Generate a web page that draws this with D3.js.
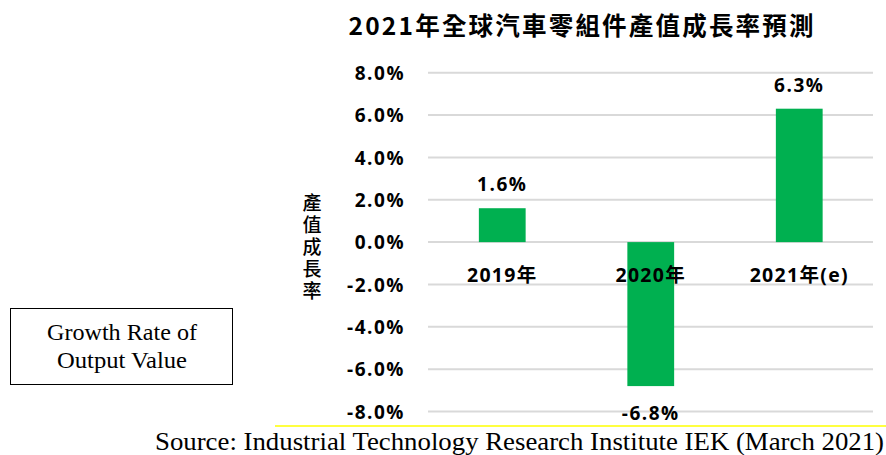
<!DOCTYPE html>
<html>
<head>
<meta charset="utf-8">
<script src="https://cdn.jsdelivr.net/npm/d3@7"></script>
<style>
  body { margin: 0; background: #fff; }
  text { font-family: "Open Sans", "Noto Sans CJK TC", sans-serif; font-weight: bold; fill: #000; }
  .serif { font-family: "Liberation Serif", "DejaVu Serif", serif; font-weight: normal; }
</style>
</head>
<body>
<div id="chart"></div>
<script>
// data
var categories = ["2019年", "2020年", "2021年(e)"];
var growth = [1.6, -6.8, 6.3];
var valueLabels = ["1.6%", "-6.8%", "6.3%"];
var yTicks = [-8, -6, -4, -2, 0, 2, 4, 6, 8];

var width = 886, height = 455;

var svg = d3.select("#chart").append("svg")
    .attr("width", width)
    .attr("height", height);

// scales
var x = d3.scaleBand().domain(categories).range([428, 873.5]).paddingInner(0.685).paddingOuter(0.3425);
var y = d3.scaleLinear().domain([-8, 8]).range([411.5, 72.7]);

// grid lines
svg.append("g")
    .selectAll("line")
    .data(yTicks)
    .enter().append("line")
    .attr("x1", 428)
    .attr("x2", 873)
    .attr("y1", function (d) { return y(d); })
    .attr("y2", function (d) { return y(d); })
    .style("stroke", "#d9d9d9")
    .style("stroke-width", 2);

// y axis labels
var yAxis = svg.append("g")
    .attr("transform", "translate(428,0)")
    .call(d3.axisLeft(y).tickValues(yTicks).tickSize(0).tickPadding(23)
        .tickFormat(function (d) { return d.toFixed(1) + "%"; }));
yAxis.select(".domain").remove();
yAxis.selectAll("text")
    .style("font-family", "'Open Sans', sans-serif")
    .style("font-weight", "bold")
    .style("font-size", "19px")
    .style("letter-spacing", "1.5px")
    .attr("dy", "0.36em");

// bars
svg.selectAll(".bar")
    .data(growth)
    .enter().append("rect")
    .attr("class", "bar")
    .attr("x", function (d, i) { return x(categories[i]); })
    .attr("width", x.bandwidth())
    .attr("y", function (d) { return y(Math.max(0, d)); })
    .attr("height", function (d) { return Math.abs(y(d) - y(0)); })
    .style("fill", "#00b050");

// value labels
svg.selectAll(".val")
    .data(growth)
    .enter().append("text")
    .attr("class", "val")
    .attr("x", function (d, i) { return x(categories[i]) + x.bandwidth() / 2; })
    .attr("y", function (d) { return d >= 0 ? y(d) - 17 : y(d) + 34; })
    .attr("text-anchor", "middle")
    .style("font-size", "19px")
    .style("letter-spacing", "1.5px")
    .text(function (d, i) { return valueLabels[i]; });

// category labels
svg.selectAll(".cat")
    .data(categories)
    .enter().append("text")
    .attr("class", "cat")
    .attr("x", function (d) { return x(d) + x.bandwidth() / 2; })
    .attr("y", y(0) + 40)
    .attr("text-anchor", "middle")
    .style("font-size", "19.5px")
    .style("letter-spacing", "1.3px")
    .text(function (d) { return d; });

// title
svg.append("text")
    .attr("x", 581)
    .attr("y", 35)
    .attr("text-anchor", "middle")
    .attr("textLength", 465)
    .attr("lengthAdjust", "spacing")
    .style("font-size", "24.5px")
    .style("font-family", "'Noto Sans CJK TC', sans-serif")
    .style("font-weight", "bold")
    .text("2021年全球汽車零組件產值成長率預測");

// vertical y title
svg.append("text")
    .attr("x", 312)
    .attr("y", 193)
    .style("writing-mode", "vertical-rl")
    .style("text-orientation", "upright")
    .style("font-family", "'Noto Sans CJK TC', sans-serif")
    .style("font-weight", "500")
    .style("font-size", "19px")
    .style("letter-spacing", "3px")
    .text("產值成長率");

// english label box
svg.append("rect")
    .attr("x", 10.5)
    .attr("y", 308.5)
    .attr("width", 222)
    .attr("height", 76)
    .style("fill", "none")
    .style("stroke", "#000")
    .style("stroke-width", 1);

svg.append("text")
    .attr("class", "serif")
    .attr("x", 122)
    .attr("y", 340)
    .attr("text-anchor", "middle")
    .attr("textLength", 150)
    .attr("lengthAdjust", "spacingAndGlyphs")
    .style("font-size", "23px")
    .text("Growth Rate of");

svg.append("text")
    .attr("class", "serif")
    .attr("x", 122)
    .attr("y", 368)
    .attr("text-anchor", "middle")
    .attr("textLength", 130)
    .attr("lengthAdjust", "spacingAndGlyphs")
    .style("font-size", "23px")
    .text("Output Value");

// yellow rule
svg.append("line")
    .attr("x1", 275)
    .attr("x2", 886)
    .attr("y1", 426)
    .attr("y2", 426)
    .style("stroke", "#ffff00")
    .style("stroke-width", 1.5);

// source
svg.append("text")
    .attr("class", "serif")
    .attr("x", 155)
    .attr("y", 450)
    .attr("textLength", 729)
    .attr("lengthAdjust", "spacingAndGlyphs")
    .style("font-size", "25px")
    .text("Source: Industrial Technology Research Institute IEK (March 2021)");
</script>
</body>
</html>
